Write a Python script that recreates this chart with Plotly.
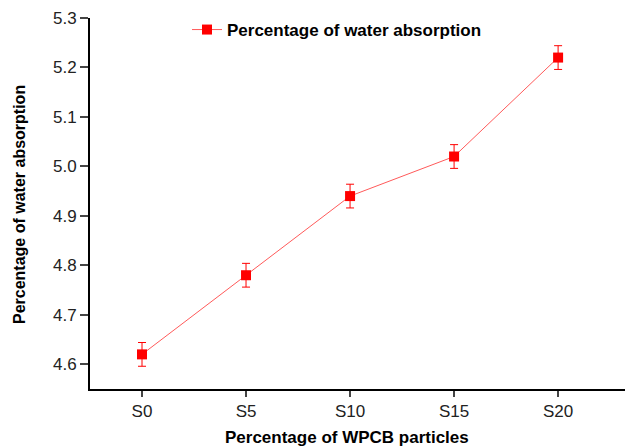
import plotly.graph_objects as go

SAMPLES = ["S0", "S5", "S10", "S15", "S20"]
ABSORPTION = [4.62, 4.78, 4.94, 5.02, 5.22]
ABSORPTION_ERR = [0.024, 0.024, 0.024, 0.024, 0.024]

LINE_COLOR = "#ff5a5a"
MARKER_COLOR = "#ff0000"
FONT = "Liberation Sans, Arial, sans-serif"

# the page body has an 8px margin, so the figure is laid out 8px up/left
WIDTH, HEIGHT = 625, 438
LEFT, TOP, BOTTOM = 82, 10, 57
PLOT_W = WIDTH - LEFT
PLOT_H = HEIGHT - TOP - BOTTOM

fig = go.Figure()

fig.add_trace(
    go.Scatter(
        x=SAMPLES,
        y=ABSORPTION,
        name="<b>Percentage of water absorption</b>",
        mode="lines+markers",
        line=dict(color=LINE_COLOR, width=1),
        marker=dict(symbol="square", size=10, color=MARKER_COLOR),
        error_y=dict(type="data", array=ABSORPTION_ERR, color=MARKER_COLOR, thickness=1, width=4),
    )
)

axis_style = dict(
    showline=True,
    linecolor="black",
    linewidth=2,
    ticks="outside",
    tickwidth=2,
    showgrid=False,
    zeroline=False,
    automargin=False,
    tickfont=dict(size=17, color="#222"),
)

fig.update_xaxes(type="category", range=[-0.5, 4.72], ticklen=6, **axis_style)
fig.update_yaxes(
    range=[4.55, 5.3],
    tickvals=[4.6, 4.7, 4.8, 4.9, 5.0, 5.1, 5.2, 5.3],
    tickformat=".1f",
    ticklen=8,
    **axis_style,
)

# axis titles placed by hand, as in the source figure
fig.add_annotation(
    text="<b>Percentage of WPCB particles</b>",
    xref="paper", yref="paper",
    x=(347 - 8 - LEFT) / PLOT_W, y=-(437 - 389) / PLOT_H,
    xanchor="center", yanchor="middle",
    showarrow=False, font=dict(size=17, color="black"),
)
fig.add_annotation(
    text="<b>Percentage of water absorption</b>",
    xref="paper", yref="paper",
    x=-(90 - 19) / PLOT_W, y=(389 - 205) / PLOT_H,
    xanchor="center", yanchor="middle", textangle=-90,
    showarrow=False, font=dict(size=16, color="black"),
)

fig.update_layout(
    width=WIDTH,
    height=HEIGHT,
    margin=dict(l=LEFT, r=0, t=TOP, b=BOTTOM),
    plot_bgcolor="white",
    paper_bgcolor="white",
    font=dict(family=FONT, color="black"),
    showlegend=True,
    legend=dict(x=(187 - 90) / PLOT_W, y=1 + 6 / PLOT_H, xanchor="left", yanchor="top",
                font=dict(size=17), bgcolor="rgba(0,0,0,0)"),
)

fig.write_html("out.html")
